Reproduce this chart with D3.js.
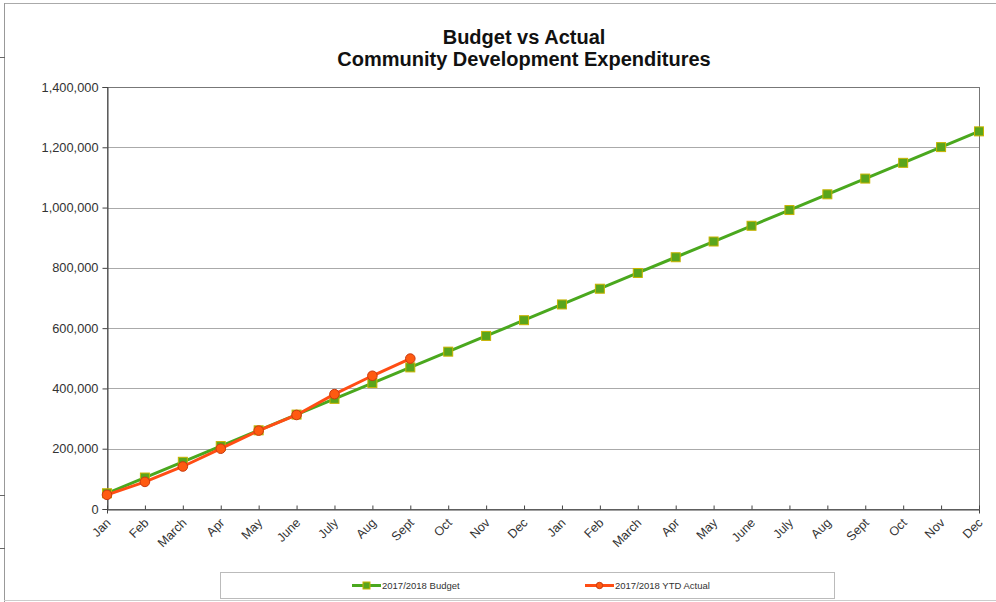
<!DOCTYPE html>
<html>
<head>
<meta charset="utf-8">
<script src="https://cdn.jsdelivr.net/npm/d3@7"></script>
<style>
  html, body { margin: 0; padding: 0; background: #fff; }
  svg { display: block; }
  text { font-family: "Liberation Sans", Arial, sans-serif; }
</style>
</head>
<body>
<svg id="chart" width="996" height="602"></svg>
<script>
const months = ["Jan","Feb","March","Apr","May","June","July","Aug","Sept","Oct","Nov","Dec",
                "Jan","Feb","March","Apr","May","June","July","Aug","Sept","Oct","Nov","Dec"];
const budget = [52200, 104400, 156600, 208800, 261000, 313200, 365400, 417600, 469800, 522000, 574200, 626400,
                678600, 730800, 783000, 835200, 887400, 939600, 991800, 1044000, 1096200, 1148400, 1200600, 1252800];
const actual = [47000, 90000, 141000, 200000, 260000, 312000, 381000, 442000, 499000];
const yTicks = [0, 200000, 400000, 600000, 800000, 1000000, 1200000, 1400000];
const titleLines = ["Budget vs Actual", "Community Development Expenditures"];
const seriesNames = ["2017/2018 Budget", "2017/2018 YTD Actual"];

const svg = d3.select("#chart");
const L = 107, R = 979, T = 87, B = 509;

// outer frame (scan)
svg.append("line").attr("x1", 4).attr("x2", 996).attr("y1", 3.5).attr("y2", 3.5).attr("stroke", "#aaa");
svg.append("line").attr("x1", 4.5).attr("x2", 4.5).attr("y1", 3).attr("y2", 602).attr("stroke", "#999");
svg.append("line").attr("x1", 4).attr("x2", 996).attr("y1", 600.5).attr("y2", 600.5).attr("stroke", "#ccc");
[57, 495, 548].forEach(y => svg.append("line").attr("x1", 0).attr("x2", 5).attr("y1", y + 0.5).attr("y2", y + 0.5).attr("stroke", "#666"));

const x = d3.scalePoint().domain(d3.range(months.length)).range([L, R]);
const y = d3.scaleLinear().domain([0, 1400000]).range([B, T]);

// title
svg.append("g").selectAll("text").data(titleLines).join("text")
  .attr("x", 524).attr("y", (d, i) => 44 + i * 22)
  .attr("text-anchor", "middle").attr("font-weight", "bold").attr("font-size", 20).attr("fill", "#111")
  .text(d => d);

// gridlines
svg.append("g").selectAll("line").data(yTicks.slice(1)).join("line")
  .attr("x1", L).attr("x2", R).attr("y1", d => Math.round(y(d)) + 0.5).attr("y2", d => Math.round(y(d)) + 0.5)
  .attr("stroke", "#aaa").attr("stroke-width", 1);

// plot border
svg.append("rect").attr("x", L + 0.5).attr("y", T + 0.5).attr("width", R - L).attr("height", B - T)
  .attr("fill", "none").attr("stroke", "#777");

// y axis
const yAxis = svg.append("g").attr("transform", `translate(${L + 0.5},0)`)
  .call(d3.axisLeft(y).tickValues(yTicks).tickSize(5).tickPadding(4).tickFormat(d3.format(",")));
yAxis.select(".domain").attr("stroke", "#444");
yAxis.selectAll(".tick line").attr("stroke", "#444");
yAxis.selectAll("text").attr("font-size", 12.8).attr("fill", "#333").attr("font-family", "Liberation Sans, Arial, sans-serif");

// x axis
const xAxis = svg.append("g").attr("transform", `translate(0,${B + 0.5})`)
  .call(d3.axisBottom(x).tickSize(4).tickFormat(i => months[i]));
xAxis.select(".domain").attr("stroke", "#444");
xAxis.selectAll(".tick line").attr("stroke", "#444").attr("transform", "translate(0,-4)");
xAxis.selectAll("text")
  .attr("font-size", 12.5).attr("fill", "#333").attr("font-family", "Liberation Sans, Arial, sans-serif")
  .attr("text-anchor", "end").attr("dy", 0).attr("y", 0)
  .attr("transform", "translate(4,14) rotate(-45)");

// lines
const line = d3.line().x((d, i) => x(i)).y(d => y(d));
const green = "#4aa81e", orange = "#ff4d14";
svg.append("path").datum(budget).attr("d", line).attr("fill", "none").attr("stroke", green).attr("stroke-width", 3);
svg.append("g").selectAll("rect").data(budget).join("rect")
  .attr("x", (d, i) => x(i) - 4.5).attr("y", d => y(d) - 4.5).attr("width", 9).attr("height", 9)
  .attr("fill", "#5aa51c").attr("stroke", "#c8b400").attr("stroke-width", 1);

svg.append("path").datum(actual).attr("d", line).attr("fill", "none").attr("stroke", orange).attr("stroke-width", 3);
svg.append("g").selectAll("circle").data(actual).join("circle")
  .attr("cx", (d, i) => x(i)).attr("cy", d => y(d)).attr("r", 4.8)
  .attr("fill", "#ff5a10").attr("stroke", "#c83a10").attr("stroke-width", 1);

// legend
svg.append("rect").attr("x", 220.5).attr("y", 572.5).attr("width", 614).attr("height", 26)
  .attr("fill", "#fff").attr("stroke", "#bbb");
const lg = [
  { x: 352, color: green, name: seriesNames[0], shape: "rect" },
  { x: 585, color: orange, name: seriesNames[1], shape: "circle" }
];
lg.forEach(o => {
  svg.append("line").attr("x1", o.x).attr("x2", o.x + 29).attr("y1", 585.5).attr("y2", 585.5)
    .attr("stroke", o.color).attr("stroke-width", 3);
  if (o.shape === "rect") {
    svg.append("rect").attr("x", o.x + 11).attr("y", 582).attr("width", 7).attr("height", 7)
      .attr("fill", "#5aa51c").attr("stroke", "#c8b400");
  } else {
    svg.append("circle").attr("cx", o.x + 14.5).attr("cy", 585.5).attr("r", 3.2)
      .attr("fill", "#ff5a10").attr("stroke", "#c83a10");
  }
  svg.append("text").attr("x", o.x + 30).attr("y", 589).attr("font-size", 9.5).attr("fill", "#333").text(o.name);
});
</script>
</body>
</html>
